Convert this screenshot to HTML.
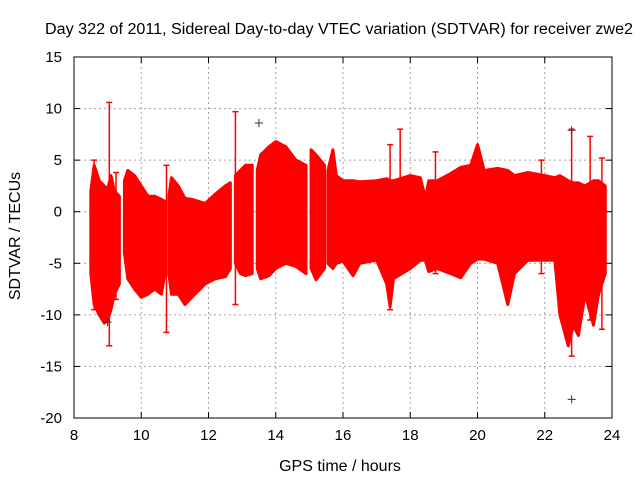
<!DOCTYPE html>
<html><head><meta charset="utf-8"><style>
html,body{margin:0;padding:0;background:#fff}
svg{display:block;font-family:"Liberation Sans",sans-serif}
</style></head><body>
<svg id="chart" width="640" height="480">
<rect width="640" height="480" fill="#fff"/>
<text x="339" y="34" font-size="15.5" text-anchor="middle" textLength="588" lengthAdjust="spacingAndGlyphs">Day 322 of 2011, Sidereal Day-to-day VTEC variation (SDTVAR) for receiver zwe2</text>
<g id="grid"></g>
<g id="series"></g>
<g id="axes"></g>
<text x="340" y="471" font-size="16" text-anchor="middle">GPS time / hours</text>
<text transform="translate(20,236) rotate(-90)" font-size="16" text-anchor="middle">SDTVAR / TECUs</text>
</svg>
<script>
const xTicks=[8,10,12,14,16,18,20,22,24];
const yTicks=[15,10,5,0,-5,-10,-15,-20];
// segments: [time, upper, lower]
const segA=[[8.5,2,-6],[8.6,4.5,-9],[8.75,3,-10],[8.9,2.5,-10.8],[9.0,2.2,-10.5],[9.1,3.5,-9.5],[9.2,2,-8],[9.35,1.5,-7]];
const segB=[[9.5,3,-4],[9.6,4,-6.5],[9.8,3.5,-7.5],[10,2.5,-8.3],[10.2,1.5,-8],[10.4,1.5,-7.5],[10.6,1.2,-8],[10.7,1,-6]];
const segC=[[10.82,1.5,-6],[10.9,3.3,-8],[11.1,2.5,-8],[11.3,1.3,-9],[11.5,1.2,-8.3],[11.9,0.8,-7],[12.2,1.7,-6.5],[12.5,2.5,-6.3],[12.65,2.8,-5.5]];
const segD=[[12.8,3.5,-5],[12.95,4,-6],[13.1,4.5,-6.2],[13.3,4.5,-6]];
const segE=[[13.45,4,-5.5],[13.55,5.5,-6.5],[13.8,6.3,-6.2],[14.0,6.8,-5.5],[14.3,6.3,-5],[14.6,5,-5.3],[14.9,4.5,-6]];
const segF=[[15.05,6,-5.5],[15.2,5.5,-6.6],[15.45,4.5,-5.5]];
const segG=[[15.55,4,-5],[15.7,6,-5.5],[15.8,3.5,-5],[16.0,3,-4.8],[16.3,3,-6.2],[16.5,2.9,-5],[17.0,3,-4.7],[17.3,3.2,-7],[17.4,3,-9.2],[17.5,3,-6.5],[18.0,3.5,-5.5],[18.3,3.3,-4.7],[18.45,1.3,-4.7],[18.55,3,-5.8],[18.8,3,-5.5],[19.2,3.7,-6],[19.5,4.3,-6.4],[19.8,4.5,-5],[20.0,6.5,-4.6],[20.2,4,-4.6],[20.6,4.2,-5],[20.9,4,-9],[21.1,3.5,-6],[21.5,3.8,-4.7],[22.0,3.5,-4.7],[22.3,3.3,-4.7],[22.45,3.5,-10],[22.7,3,-13],[22.85,2.8,-11],[23.0,2.8,-12],[23.2,2.5,-8],[23.45,3,-11],[23.6,3,-8],[23.8,2.5,-6]];
// spikes: [time, low, high]
const spikes=[[9.05,-13,10.6],[8.6,-9.5,5],[9.25,-8.5,3.8],[10.75,-11.7,4.5],[12.8,-9,9.7],[22.8,-14,8],[23.35,-10.5,7.3],[17.7,-5,8],[17.4,-9.5,6.5],[18.75,-6,5.8],[23.7,-11.4,5.2],[21.9,-6,5]];
const outT=[13.5,22.8,22.8,9.0];
const outV=[8.6,-18.2,7.9,-10.7];

const X0=74,X1=612,Y0=57,Y1=418;
const xs=t=>X0+(t-8)/16*(X1-X0);
const ys=v=>Y0+(15-v)/35*(Y1-Y0);
const NS="http://www.w3.org/2000/svg";
function mk(tag,attrs,parent){const e=document.createElementNS(NS,tag);for(const k in attrs)e.setAttribute(k,attrs[k]);parent.appendChild(e);return e;}
const grid=document.getElementById('grid'),axes=document.getElementById('axes'),series=document.getElementById('series');
xTicks.forEach(t=>{
  if(t>8&&t<24){const l=mk('line',{x1:xs(t),x2:xs(t),y1:Y0,y2:Y1,stroke:'#a0a0a0','stroke-dasharray':'2,3'},grid);
  
  }
  mk('line',{x1:xs(t),x2:xs(t),y1:Y1,y2:Y1-6,stroke:'#000'},axes);
  mk('line',{x1:xs(t),x2:xs(t),y1:Y0,y2:Y0+6,stroke:'#000'},axes);
  const tx=mk('text',{x:xs(t),y:Y1+22,'font-size':15,'text-anchor':'middle'},axes);tx.textContent=t;
  
  
});
yTicks.forEach(v=>{
  if(v<15&&v>-20){const l=mk('line',{x1:X0,x2:X1,y1:ys(v),y2:ys(v),stroke:'#a0a0a0','stroke-dasharray':'2,3'},grid);
  
  }
  mk('line',{x1:X0,x2:X0+6,y1:ys(v),y2:ys(v),stroke:'#000'},axes);
  mk('line',{x1:X1,x2:X1-6,y1:ys(v),y2:ys(v),stroke:'#000'},axes);
  const tx=mk('text',{x:X0-12,y:ys(v)+5,'font-size':15,'text-anchor':'end'},axes);tx.textContent=v;
  
  
});
mk('rect',{x:X0,y:Y0,width:X1-X0,height:Y1-Y0,fill:'none',stroke:'#000'},axes);
[segA,segB,segC,segD,segE,segF,segG].forEach(seg=>{
  let d='M'+seg.map(p=>xs(p[0])+','+ys(p[1])).join('L');
  d+='L'+seg.slice().reverse().map(p=>xs(p[0])+','+ys(p[2])).join('L')+'Z';
  const p=mk('path',{d:d,fill:'#ff0000',stroke:'#ff0000','stroke-width':3,'stroke-linejoin':'round'},series);
  
  
});
spikes.forEach(s=>{
  const x=xs(s[0]);
  const l=mk('line',{x1:x,x2:x,y1:ys(s[1]),y2:ys(s[2]),stroke:'#ff0000','stroke-width':1.5},series);
  
  
  mk('line',{x1:x-3,x2:x+3,y1:ys(s[1]),y2:ys(s[1]),stroke:'#ff0000','stroke-width':1.5},series);
  mk('line',{x1:x-3,x2:x+3,y1:ys(s[2]),y2:ys(s[2]),stroke:'#ff0000','stroke-width':1.5},series);
});
outT.forEach((t,i)=>{
  const x=xs(t),y=ys(outV[i]);
  const g=mk('path',{d:`M${x-4},${y}H${x+4}M${x},${y-4}V${y+4}`,stroke:'#333',fill:'none'},series);
  
  
});
</script>
</body></html>
